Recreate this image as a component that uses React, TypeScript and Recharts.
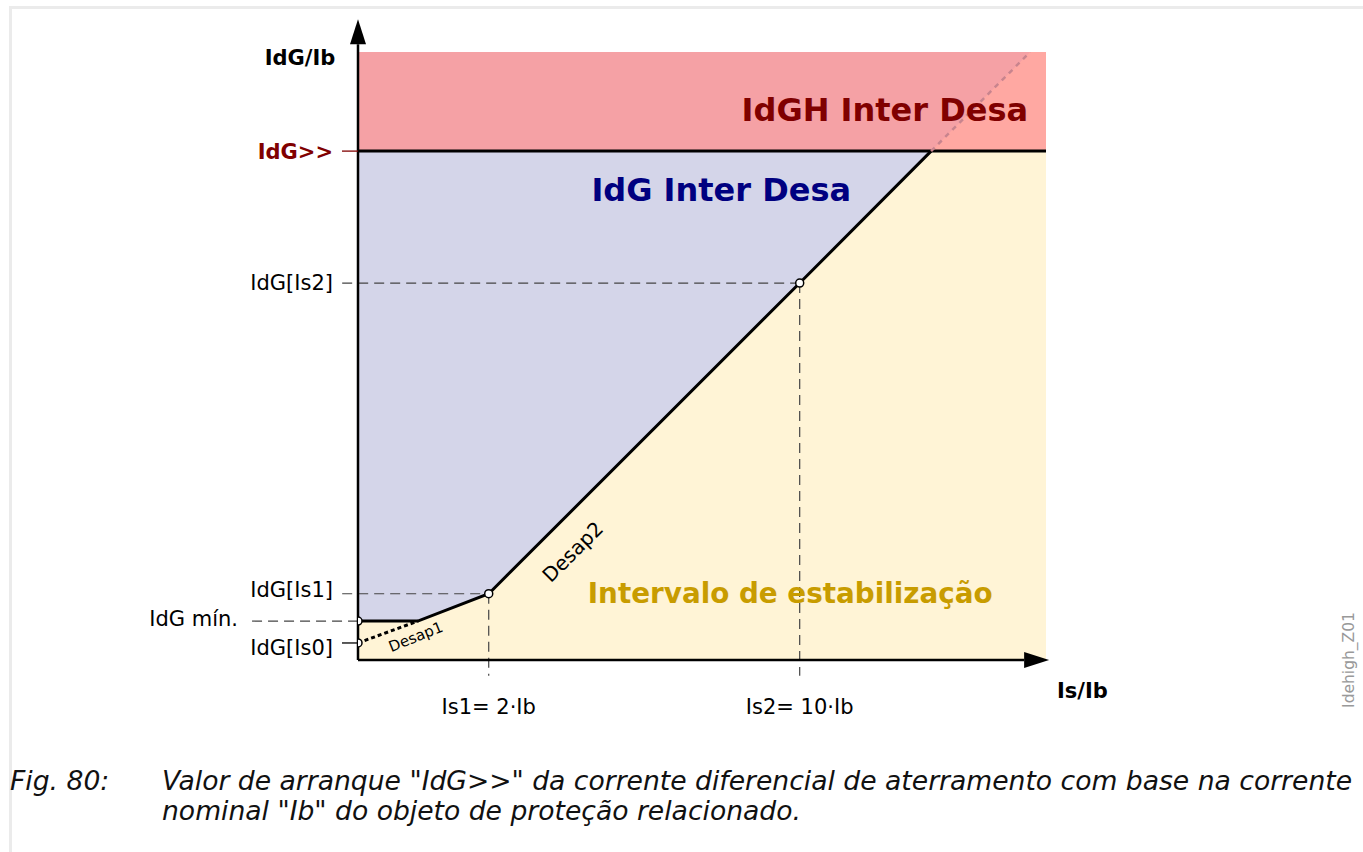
import * as React from "react";

import {
    Area,
    ComposedChart,
    Line,
    ReferenceDot,
    ReferenceLine,
    Scatter,
    XAxis,
    YAxis,
} from "recharts";

// schematic units: both axes run 0..100 over the plot area
const curveX: number[] = [0, 8.7, 19.0, 64.2, 83.3];
const curveY: number[] = [6.4, 6.4, 10.9, 62.0, 83.7];
const IDG_HIGH = 83.7;
const TOP = 100;
const desap1X: number[] = [0, 8.7];
const desap1Y: number[] = [2.8, 6.4];
const extX: number[] = [83.3, 97.7];
const extY: number[] = [83.7, 100];

const pointX: number[] = [0, 0, 19.0, 64.2];
const pointY: number[] = [6.4, 2.8, 10.9, 62.0];

const yTickValues: number[] = [2.8, 6.4, 10.9, 62.0, 83.7];
const yTickLabels: string[] = ["IdG[Is0]", "IdG mín.", "IdG[Is1]", "IdG[Is2]", "IdG>>"];
const xTickValues: number[] = [19.0, 64.2];
const xTickLabels: string[] = ["Is1= 2·Ib", "Is2= 10·Ib"];

const FONT = "'DejaVu Sans', sans-serif";
const WIDTH = 1363;
const HEIGHT = 740;

const toPts = (xs: number[], ys: number[]) => xs.map((x, i) => ({ x, y: ys[i] }));

const stabData = [...toPts(curveX, curveY), { x: TOP, y: IDG_HIGH }];
const blueData = [{ x: 0, y: IDG_HIGH }, { x: curveX[curveX.length - 1], y: IDG_HIGH }];
const redData = [{ x: 0, y: [IDG_HIGH, TOP] }, { x: TOP, y: [IDG_HIGH, TOP] }];
const lightRedData = [
    { x: extX[0], y: [IDG_HIGH, extY[0]] },
    { x: extX[1], y: [IDG_HIGH, extY[1]] },
    { x: TOP, y: [IDG_HIGH, TOP] },
];

const YTick = (props: any) => {
    const { y, payload } = props;
    const i = yTickValues.indexOf(payload.value);
    const label = yTickLabels[i];
    const shift: Record<string, number> = { "IdG[Is0]": 5, "IdG mín.": -2, "IdG[Is1]": -4, "IdG[Is2]": 0, "IdG>>": 1 };
    const isHigh = label === "IdG>>";
    const endX = label === "IdG mín." ? 238 : 333;
    return (
        <g>
            {(isHigh || label === "IdG[Is0]") &&
                <line x1={342} x2={358} y1={y} y2={y} stroke={isHigh ? "#800000" : "#000"} strokeWidth={1.3} />}
            <text x={endX} y={y + 7 + shift[label]} textAnchor="end" fontFamily={FONT} fontSize={21}
                fontWeight={isHigh ? "bold" : "normal"} fill={isHigh ? "#800000" : "#000"}>
                {label}
            </text>
        </g>
    );
};

const XTick = (props: any) => {
    const { x, payload } = props;
    const label = xTickLabels[xTickValues.indexOf(payload.value)];
    return (
        <text x={x} y={714} textAnchor="middle" fontFamily={FONT} fontSize={21} fill="#000">{label}</text>
    );
};

const arrowShape = (props: any) => {
    const { x1, y1, x2, y2 } = props;
    const a = Math.atan2(y2 - y1, x2 - x1);
    const len = 25;
    const half = 8;
    const bx = x2 - len * Math.cos(a);
    const by = y2 - len * Math.sin(a);
    const px = -Math.sin(a) * half;
    const py = Math.cos(a) * half;
    return (
        <g>
            <line x1={x1} y1={y1} x2={bx} y2={by} stroke="#000" strokeWidth={2.5} />
            <polygon points={`${x2},${y2} ${bx + px},${by + py} ${bx - px},${by - py}`} fill="#000" />
        </g>
    );
};

const textDot = (key: string, x: number, y: number, text: string, style: any, rotate = 0) => (
    <ReferenceDot key={key} x={x} y={y} ifOverflow="visible"
        shape={(p: any) => (
            <text x={p.cx} y={p.cy} fontFamily={FONT}
                transform={rotate ? `rotate(${rotate} ${p.cx} ${p.cy})` : undefined}
                {...style}>
                {text}
            </text>
        )} />
);

const dash = (key: string, x1: number, y1: number, x2: number, y2: number) => (
    <ReferenceLine key={key} segment={[{ x: x1, y: y1 }, { x: x2, y: y2 }]} ifOverflow="visible"
        stroke="#444" strokeWidth={1.2} strokeDasharray="10 6" />
);

const Circle = (props: any) => (
    <circle cx={props.cx} cy={props.cy} r={4} fill="#fff" stroke="#000" strokeWidth={1.5} />
);

export default function App() {
    return (
        <div style={{ position: "absolute", left: 0, top: 0, width: WIDTH, height: 852, background: "#fff" }}>
            <div style={{
                position: "absolute", left: 9, top: 6, width: WIDTH - 9, height: 846,
                borderLeft: "3px solid #ebebeb", borderTop: "3px solid #ebebeb",
            }} />
            <div style={{ position: "absolute", left: 0, top: 0 }}>
                <ComposedChart width={WIDTH} height={HEIGHT} margin={{ top: 52, right: 317, bottom: 0, left: 0 }}>
                    <XAxis dataKey="x" type="number" domain={[0, TOP]} allowDataOverflow height={80}
                        ticks={xTickValues} interval={0} axisLine={false} tickLine={false} tick={<XTick />} />
                    <YAxis type="number" domain={[0, TOP]} allowDataOverflow width={358}
                        ticks={yTickValues} interval={0} axisLine={false} tickLine={false} tick={<YTick />} />

                    <Area data={blueData} dataKey="y" type="linear" fill="#d4d5e9" fillOpacity={1}
                        stroke="none" isAnimationActive={false} dot={false} activeDot={false} />
                    <Area data={stabData} dataKey="y" type="linear" fill="#fff4d6" fillOpacity={1}
                        stroke="none" isAnimationActive={false} dot={false} activeDot={false} />
                    <Area data={redData} dataKey="y" type="linear" fill="#f5a1a5" fillOpacity={1}
                        stroke="none" isAnimationActive={false} dot={false} activeDot={false} />
                    <Area data={lightRedData} dataKey="y" type="linear" fill="#ffa8a2" fillOpacity={1}
                        stroke="none" isAnimationActive={false} dot={false} activeDot={false} />

                    {dash("d-is2h", -2.3, pointY[3], pointX[3], pointY[3])}
                    {dash("d-is1h", -2.3, pointY[2], pointX[2], pointY[2])}
                    {dash("d-min", -15.4, pointY[0], 0, pointY[0])}
                    {dash("d-is1v", pointX[2], pointY[2], pointX[2], -2.6)}
                    {dash("d-is2v", pointX[3], pointY[3], pointX[3], -2.6)}

                    <Line data={[{ x: 0, y: IDG_HIGH }, { x: TOP, y: IDG_HIGH }]} dataKey="y" type="linear"
                        stroke="#000" strokeWidth={3} dot={false} activeDot={false} isAnimationActive={false} />
                    <Line data={toPts(curveX, curveY)} dataKey="y" type="linear"
                        stroke="#000" strokeWidth={3} dot={false} activeDot={false} isAnimationActive={false} />
                    <Line data={toPts(desap1X, desap1Y)} dataKey="y" type="linear" strokeDasharray="4 3"
                        stroke="#000" strokeWidth={3} dot={false} activeDot={false} isAnimationActive={false} />
                    <Line data={toPts(extX, extY)} dataKey="y" type="linear" strokeDasharray="5 5"
                        stroke="#c8848e" strokeWidth={2.5} dot={false} activeDot={false} isAnimationActive={false} />

                    <ReferenceLine segment={[{ x: 0, y: 0 }, { x: 0, y: 105.4 }]} ifOverflow="visible" shape={arrowShape} />
                    <ReferenceLine segment={[{ x: 0, y: 0 }, { x: 100.45, y: 0 }]} ifOverflow="visible" shape={arrowShape} />

                    <Scatter data={toPts(pointX, pointY)} dataKey="y" shape={<Circle />} isAnimationActive={false} />

                    {textDot("t-yt", -3.3, 97.9, "IdG/Ib", { textAnchor: "end", fontSize: 21, fontWeight: "bold", fill: "#000" })}
                    {textDot("t-xt", 101.6, -6.25, "Is/Ib", { textAnchor: "start", fontSize: 21, fontWeight: "bold", fill: "#000" })}
                    {textDot("t-red", 97.4, 88.6, "IdGH Inter Desa", { textAnchor: "end", fontSize: 32, fontWeight: "bold", fill: "#800000" })}
                    {textDot("t-blue", 52.8, 75.5, "IdG Inter Desa", { textAnchor: "middle", fontSize: 32, fontWeight: "bold", fill: "#000080" })}
                    {textDot("t-stab", 33.4, 9.4, "Intervalo de estabilização", { textAnchor: "start", fontSize: 27.8, fontWeight: "bold", fill: "#c89c00" })}
                    {textDot("t-d2", 31.2, 17.8, "Desap2", { textAnchor: "middle", dominantBaseline: "central", fontSize: 20, fill: "#000" }, -45)}
                    {textDot("t-d1", 8.4, 3.8, "Desap1", { textAnchor: "middle", dominantBaseline: "central", fontSize: 15, fill: "#000" }, -22)}
                    {textDot("t-id", 144.0, 0, "Idehigh_Z01", { textAnchor: "middle", dominantBaseline: "central", fontSize: 15.5, fill: "#999" }, -90)}
                </ComposedChart>
            </div>
            <div style={{
                position: "absolute", left: 10, top: 766, fontFamily: FONT, fontStyle: "italic",
                fontSize: 26.6, lineHeight: "30px", color: "#111",
            }}>
                Fig. 80:
            </div>
            <div style={{
                position: "absolute", left: 162, top: 766, width: 1200, fontFamily: FONT, fontStyle: "italic",
                fontSize: 26.6, lineHeight: "30px", color: "#111", whiteSpace: "nowrap",
            }}>
                Valor de arranque "IdG&gt;&gt;" da corrente diferencial de aterramento com base na corrente<br />
                nominal "Ib" do objeto de proteção relacionado.
            </div>
        </div>
    );
}
